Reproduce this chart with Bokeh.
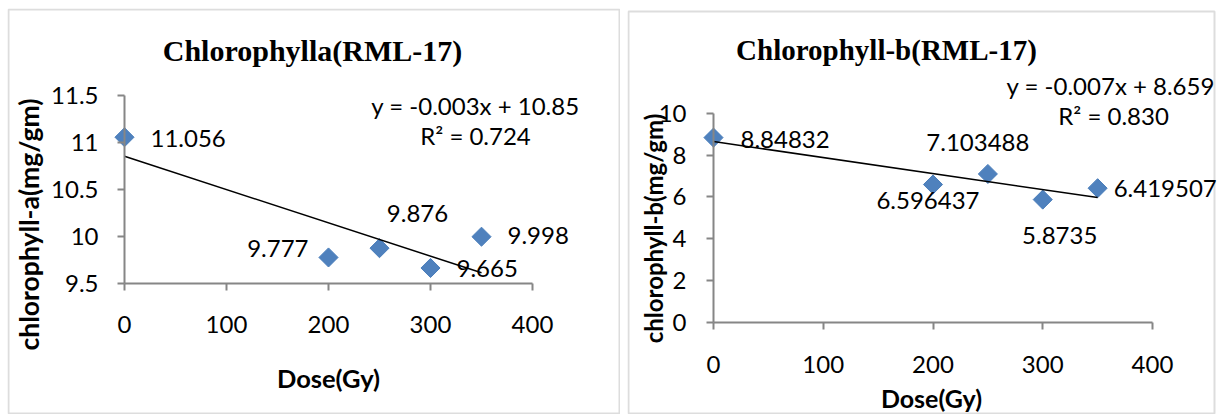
import numpy as np
from bokeh.plotting import figure
from bokeh.models import (Range1d, FixedTicker, Label, LabelSet, ColumnDataSource,
                          NumeralTickFormatter, BoxAnnotation)
from bokeh.core.properties import value, field
from bokeh.layouts import row
from bokeh.embed import file_html
from bokeh.resources import INLINE

# ---------------- data ----------------
dose = [0, 200, 250, 300, 350]
chl_a = [11.056, 9.777, 9.876, 9.665, 9.998]
chl_b = [8.84832, 6.596437, 7.103488, 5.8735, 6.419507]
chl_a_labels = ["11.056", "9.777", "9.876", "9.665", "9.998"]
chl_b_labels = ["8.84832", "6.596437", "7.103488", "5.8735", "6.419507"]
x_ticks = [0, 100, 200, 300, 400]
a_ticks = [9.5, 10, 10.5, 11, 11.5]
b_ticks = [0, 2, 4, 6, 8, 10]
titles = ["Chlorophylla(RML-17)", "Chlorophyll-b(RML-17)"]
y_titles = ["chlorophyll-a(mg/gm)", "chlorophyll-b(mg/gm)"]
x_title = "Dose(Gy)"
eq_a = ["y = -0.003x + 10.85", "R\u00b2 = 0.724"]
eq_b = ["y = -0.007x + 8.659", "R\u00b2 = 0.830"]

# ---------------- style ----------------
BLUE = "#4F81BD"
AXIS = "#868686"
TXT = "Lato"
SERIF = "Liberation Serif"


def base_fig(w, h, origin_px, px_per_unit, origin_val, ybounds, yticks, margin,
             x_stand, y_stand, box_px):
    """Frame covers the whole panel; axes sit at fixed data locations."""
    ox, oy = origin_px          # pixel position (inside panel) of data origin
    sx, sy = px_per_unit
    x0, y0 = origin_val
    xr = Range1d(x0 - ox / sx, x0 + (w - ox) / sx)
    yr = Range1d(y0 - (h - oy) / sy, y0 + oy / sy)
    p = figure(width=w, height=h, x_range=xr, y_range=yr, title=None,
               output_backend="svg", toolbar_location=None,
               min_border_left=0, min_border_right=0, min_border_top=0, min_border_bottom=0,
               outline_line_color=None, background_fill_color="white",
               border_fill_color="white", margin=margin)
    p.grid.visible = False
    p.xaxis.ticker = FixedTicker(ticks=x_ticks)
    p.yaxis.ticker = FixedTicker(ticks=yticks)
    p.yaxis.formatter = NumeralTickFormatter(format="0.[0]")
    p.xaxis.fixed_location = y0
    p.yaxis.fixed_location = x0
    p.xaxis.bounds = (x_ticks[0], x_ticks[-1])
    p.yaxis.bounds = ybounds
    p.xaxis.major_label_standoff = x_stand
    p.yaxis.major_label_standoff = y_stand
    for ax in (p.xaxis[0], p.yaxis[0]):
        ax.axis_line_color = AXIS
        ax.axis_line_width = 2
        ax.major_tick_line_color = AXIS
        ax.major_tick_line_width = 2
        ax.major_tick_out = 7
        ax.major_tick_in = 0
        ax.minor_tick_line_color = None
        ax.major_label_text_font = TXT
        ax.major_label_text_font_size = "24px"
        ax.major_label_text_color = "black"
    # panel border (pixel edges inside the panel: left, right, top, bottom)
    bl, br, bt, bb = box_px
    p.add_layout(BoxAnnotation(left=x0 + (bl - ox) / sx, right=x0 + (br - ox) / sx,
                               top=y0 + (oy - bt) / sy, bottom=y0 + (oy - bb) / sy,
                               fill_color=None, line_color="#8f8f8f", line_width=2))
    return p


def add_series(p, ys, labels, offs):
    p.scatter(dose, ys, marker="square", angle=np.pi / 4, size=13.5,
              fill_color=BLUE, line_color="#4A7EBB")
    coef = np.polyfit(dose, ys, 1)
    xs = [min(dose), max(dose)]
    p.line(xs, list(np.polyval(coef, xs)), line_color="black", line_width=1.5)
    src = ColumnDataSource(dict(x=dose, y=ys, t=labels,
                                xo=[o[0] for o in offs], yo=[o[1] for o in offs],
                                al=[o[2] for o in offs]))
    p.add_layout(LabelSet(x="x", y="y", text="t", source=src, x_offset="xo", y_offset="yo",
                          text_align=field("al"), text_baseline="middle",
                          text_font=value(TXT), text_font_size="24px", text_color="black"))


def add_text(p, x, y, text, font=TXT, size="24px", style="normal", angle=0.0):
    p.add_layout(Label(x=x, y=y, text=text, text_font=font, text_font_size=size,
                       text_font_style=style, text_align="center", text_baseline="middle",
                       text_color="black", angle=angle))


# ---------------- left panel ----------------
pa = base_fig(613, 406, (117, 275), (1.02, 94.0), (0, 9.5), (9.5, 11.5), a_ticks,
              (8, 0, 0, 7), 25, 19, (1, 612, 1, 405))
add_series(pa, chl_a, chl_a_labels,
           [(26, -1, "left"), (-20, 9, "right"), (38, 35, "center"), (26, -1, "left"), (26, 1, "left")])
add_text(pa, 184.3, 11.979, titles[0], font=SERIF, size="30px", style="bold")
add_text(pa, 344.1, 11.394, eq_a[0])
add_text(pa, 344.1, 11.074, eq_a[1])
add_text(pa, 200, 8.5, x_title, size="25.5px", style="bold")
add_text(pa, -94.1, 10.128, y_titles[0], size="26.5px", style="bold", angle=np.pi / 2)

# ---------------- right panel ----------------
pb = base_fig(590, 406, (86, 313.5), (1.0975, 20.84), (0, 0), (0, 10), b_ticks,
              (8, 0, 0, 7), 27, 20, (1, 587, 3, 405))
add_series(pb, chl_b, chl_b_labels,
           [(27, -2, "left"), (-5, -16, "center"), (-10, 31, "center"), (17, -36, "center"), (16, 0, "left")])
add_text(pb, 157.6, 13.03, titles[1], font=SERIF, size="29px", style="bold")
add_text(pb, 362.0, 11.35, eq_b[0])
add_text(pb, 364.5, 9.91, eq_b[1])
add_text(pb, 198.6, -3.623, x_title, size="25px", style="bold")
add_text(pb, -54.7, 4.487, y_titles[1], size="24px", style="bold", angle=np.pi / 2)

layout = row(pa, pb)
open("out.html", "w").write(file_html(layout, INLINE))
